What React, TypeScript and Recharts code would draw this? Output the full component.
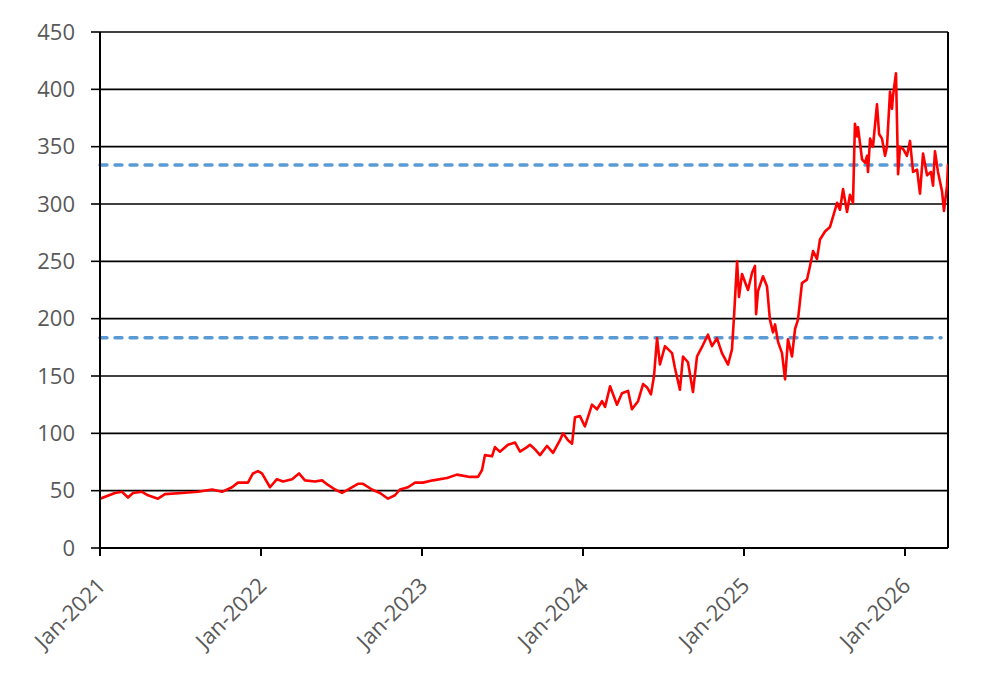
import React from "react";
import { LineChart, Line, XAxis, YAxis, CartesianGrid, ReferenceLine } from "recharts";

// decimal-year positions of the sampled points
const times = [
  2021.0, 2021.093, 2021.137, 2021.174, 2021.205, 2021.261, 2021.298, 2021.36, 2021.404, 2021.509,
  2021.609, 2021.696, 2021.758, 2021.82, 2021.857, 2021.919, 2021.95, 2021.981, 2022.006, 2022.056,
  2022.099, 2022.137, 2022.193, 2022.236, 2022.273, 2022.335, 2022.379, 2022.416, 2022.46, 2022.503,
  2022.54, 2022.602, 2022.634, 2022.689, 2022.739, 2022.789, 2022.832, 2022.863, 2022.913, 2022.957,
  2023.006, 2023.068, 2023.155, 2023.217, 2023.298, 2023.348, 2023.373, 2023.391, 2023.435, 2023.453,
  2023.484, 2023.534, 2023.578, 2023.609, 2023.652, 2023.671, 2023.702, 2023.733, 2023.776, 2023.814,
  2023.857, 2023.876, 2023.907, 2023.932, 2023.95, 2023.981, 2024.012, 2024.056, 2024.087, 2024.118,
  2024.137, 2024.168, 2024.211, 2024.242, 2024.28, 2024.304, 2024.342, 2024.373, 2024.398, 2024.422,
  2024.441, 2024.46, 2024.478, 2024.509, 2024.553, 2024.571, 2024.602, 2024.621, 2024.652, 2024.683,
  2024.708, 2024.745, 2024.776, 2024.801, 2024.832, 2024.863, 2024.901, 2024.925, 2024.938, 2024.957,
  2024.969, 2024.988, 2025.006, 2025.025, 2025.05, 2025.068, 2025.075, 2025.087, 2025.118, 2025.143,
  2025.161, 2025.18, 2025.193, 2025.211, 2025.236, 2025.255, 2025.273, 2025.298, 2025.317, 2025.335,
  2025.36, 2025.391, 2025.41, 2025.429, 2025.453, 2025.472, 2025.503, 2025.534, 2025.553, 2025.578,
  2025.596, 2025.615, 2025.64, 2025.658, 2025.677, 2025.689, 2025.702, 2025.708, 2025.733, 2025.752,
  2025.764, 2025.77, 2025.783, 2025.801, 2025.826, 2025.839, 2025.857, 2025.876, 2025.888, 2025.907,
  2025.919, 2025.925, 2025.944, 2025.957, 2025.969, 2025.988, 2026.012, 2026.031, 2026.05, 2026.075,
  2026.093, 2026.112, 2026.137, 2026.161, 2026.174, 2026.186, 2026.205, 2026.23, 2026.242, 2026.261,
  2026.267,
];

const prices = [
  43, 48, 49, 44, 48, 49, 46, 43, 47, 48,
  49, 51, 49, 53, 57, 57, 65, 67, 65, 53,
  60, 58, 60, 65, 59, 58, 59, 55, 51, 48,
  51, 56, 56, 51, 48, 43, 46, 51, 53, 57,
  57, 59, 61, 64, 62, 62, 68, 81, 80, 88,
  84, 90, 92, 84, 88, 90, 86, 81, 89, 83,
  94, 100, 94, 91, 114, 115, 106, 125, 121, 128,
  123, 141, 125, 135, 137, 121, 128, 143, 140, 134,
  150, 183, 160, 176, 170, 157, 138, 167, 162, 136,
  167, 177, 186, 176, 183, 170, 160, 173, 202, 250,
  219, 239, 232, 225, 240, 246, 204, 224, 237, 228,
  199, 188, 195, 180, 170, 147, 182, 167, 191, 199,
  231, 234, 246, 259, 252, 269, 276, 280, 289, 301,
  295, 313, 293, 308, 301, 370, 359, 367, 339, 336,
  342, 328, 357, 350, 387, 361, 357, 342, 350, 398,
  383, 394, 414, 326, 350, 348, 342, 355, 328, 330,
  309, 344, 325, 328, 316, 346, 328, 311, 294, 316,
  335,
];

const yearTicks = [2021, 2022, 2023, 2024, 2025, 2026];
const tickLabels = ["Jan-2021", "Jan-2022", "Jan-2023", "Jan-2024", "Jan-2025", "Jan-2026"];
const yTicks = [0, 50, 100, 150, 200, 250, 300, 350, 400, 450];
const levels = [334, 183.4];
const levelStart = 2021.0;
const levelEnd = 2026.224;
const xMin = 2021.0;
const xMax = 2026.267;

const data = times.map((t, i) => ({ t, v: prices[i] }));

const FONT = "'Open Sans', sans-serif";

const XTick = (props: any) => {
  const { x, y, payload } = props;
  const idx = yearTicks.indexOf(payload.value);
  const ax = x + 7;
  const ay = y + 29;
  return (
    <text
      x={ax}
      y={ay}
      transform={`rotate(-45, ${ax}, ${ay})`}
      textAnchor="end"
      fill="#595959"
      fontSize={22}
      fontFamily={FONT}
    >
      {idx >= 0 ? tickLabels[idx] : ""}
    </text>
  );
};

export default function App() {
  return (
    <div style={{ fontFamily: FONT }}>
      <LineChart
        width={995}
        height={660}
        data={data}
        margin={{ top: 24, right: 55, bottom: 0, left: 0 }}
      >
        <CartesianGrid vertical={false} stroke="#000" strokeWidth={1.6} />
        <XAxis
          dataKey="t"
          type="number"
          domain={[xMin, xMax]}
          ticks={yearTicks}
          allowDataOverflow
          interval={0}
          tick={<XTick />}
          tickSize={8}
          axisLine={{ stroke: "#000", strokeWidth: 2 }}
          tickLine={{ stroke: "#000", strokeWidth: 2 }}
          height={120}
        />
        <YAxis
          type="number"
          domain={[0, 450]}
          ticks={yTicks}
          interval={0}
          width={92}
          tickSize={9}
          tickMargin={16}
          axisLine={{ stroke: "#000", strokeWidth: 2 }}
          tickLine={{ stroke: "#000", strokeWidth: 1.6 }}
          tick={{ fill: "#595959", fontSize: 22, fontFamily: FONT }}
        />
        <ReferenceLine x={xMax} stroke="#000" strokeWidth={2} />
        {levels.map((lv) => (
          <ReferenceLine
            key={lv}
            segment={[
              { x: levelStart, y: lv },
              { x: levelEnd, y: lv },
            ]}
            stroke="#5B9BD5"
            strokeWidth={3.4}
            strokeDasharray="7 8"
            strokeLinecap="round"
          />
        ))}
        <Line
          type="linear"
          dataKey="v"
          stroke="#FF0000"
          strokeWidth={2.6}
          dot={false}
          isAnimationActive={false}
          strokeLinejoin="round"
        />
      </LineChart>
    </div>
  );
}
